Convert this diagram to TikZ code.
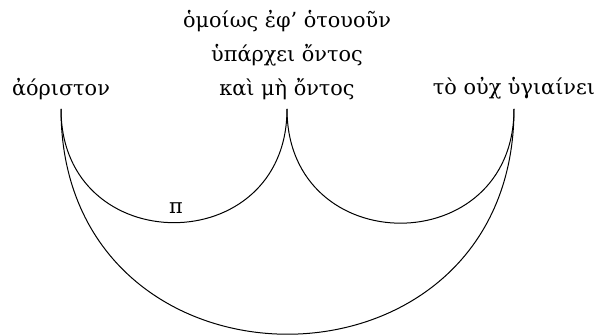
\documentclass[tikz,border=0pt]{standalone}
\usepackage{fontspec}
\setmainfont{DejaVu Serif}
\tikzset{every node/.style={font=\fontsize{10.4}{17}\selectfont}}
\tikzset{term/.style={anchor=south, inner sep=4.6pt, align=center}}

\begin{document}
\begin{tikzpicture}[x=0.5pt, y=0.5pt]
  \useasboundingbox (0,0) rectangle (601,335);

  % Terms of the figure.
  \node[term] (indef) at (61,226) {ἀόριστον};
  \node[term] (mid) at (287,226) {ὁμοίως ἐφ’ ὁτουοῦν\\ὑπάρχει ὄντος\\καὶ μὴ ὄντος};
  \node[term] (ill) at (514,226) {τὸ οὐχ ὑγιαίνει};

  % Arcs joining the terms.
  \draw[line width=0.5pt] (indef.south) to[out=-90, in=-90, looseness=1.72] (mid.south);
  \draw[line width=0.5pt] (mid.south) to[out=-90, in=-90, looseness=1.72] (ill.south);
  \draw[line width=0.5pt] (indef.south) to[out=-90, in=-90, looseness=1.70] (ill.south);

  % Label on the left arc.
  \node (pi) at (176,127) {π};
\end{tikzpicture}
\end{document}
